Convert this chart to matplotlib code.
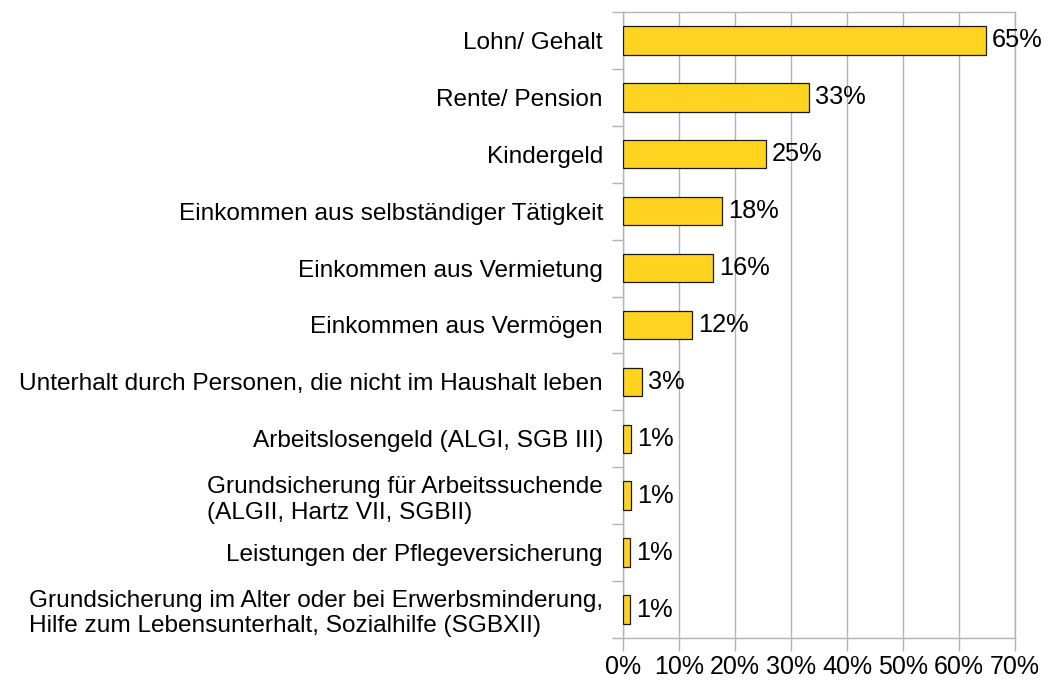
import numpy as np
import matplotlib
matplotlib.use("Agg")
import matplotlib.pyplot as plt
from matplotlib.ticker import FixedLocator, FuncFormatter

plt.rcParams['font.family'] = ['Liberation Sans', 'DejaVu Sans']

# Einkommensquellen (von oben nach unten)
categories = [
    "Lohn/ Gehalt",
    "Rente/ Pension",
    "Kindergeld",
    "Einkommen aus selbständiger Tätigkeit",
    "Einkommen aus Vermietung",
    "Einkommen aus Vermögen",
    "Unterhalt durch Personen, die nicht im Haushalt leben",
    "Arbeitslosengeld (ALGI, SGB III)",
    "Grundsicherung für Arbeitssuchende\n(ALGII, Hartz VII, SGBII)",
    "Leistungen der Pflegeversicherung",
    "Grundsicherung im Alter oder bei Erwerbsminderung,\nHilfe zum Lebensunterhalt, Sozialhilfe (SGBXII)",
]
values = [64.8, 33.2, 25.5, 17.7, 16.1, 12.3, 3.4, 1.5, 1.5, 1.3, 1.2]
value_labels = ["65%", "33%", "25%", "18%", "16%", "12%", "3%", "1%", "1%", "1%", "1%"]
x_ticks = [0, 10, 20, 30, 40, 50, 60, 70]

grid_col = "#b3b3b3"

fig = plt.figure(figsize=(10.48, 6.84), dpi=100)
ax = fig.add_axes([0.5945, 0.0673, 0.374, 0.9152])

y = np.arange(len(categories))
ax.barh(y, values, height=0.5, color="#ffd320", edgecolor="#1a1a1a",
        linewidth=0.9, zorder=3)

for yi, v, lab in zip(y, values, value_labels):
    ax.text(v + 1.1, yi, lab, va="center", ha="left", fontsize=18.3, zorder=4)

ax.set_xlim(0, 70)
ax.set_ylim(len(categories) - 0.5, -0.5)
ax.xaxis.set_major_locator(FixedLocator(x_ticks))
ax.xaxis.set_major_formatter(FuncFormatter(lambda v, p: f"{v:.0f}%"))
ax.grid(axis="x", color=grid_col, linewidth=1, zorder=0)

ax.set_yticks(y)
ax.set_yticklabels(categories, fontsize=17.6, multialignment="left",
                   linespacing=1.2)
ax.yaxis.set_minor_locator(FixedLocator(np.arange(-0.5, len(categories), 1)))
ax.tick_params(axis="y", which="major", length=0, pad=14.5)
ax.tick_params(axis="y", which="minor", length=8, color=grid_col, width=1)
ax.tick_params(axis="x", length=9, color=grid_col, width=1, labelsize=18, pad=3)

for s in ax.spines.values():
    s.set_color(grid_col)
    s.set_linewidth(1)

fig.savefig("out.png", dpi=100)
